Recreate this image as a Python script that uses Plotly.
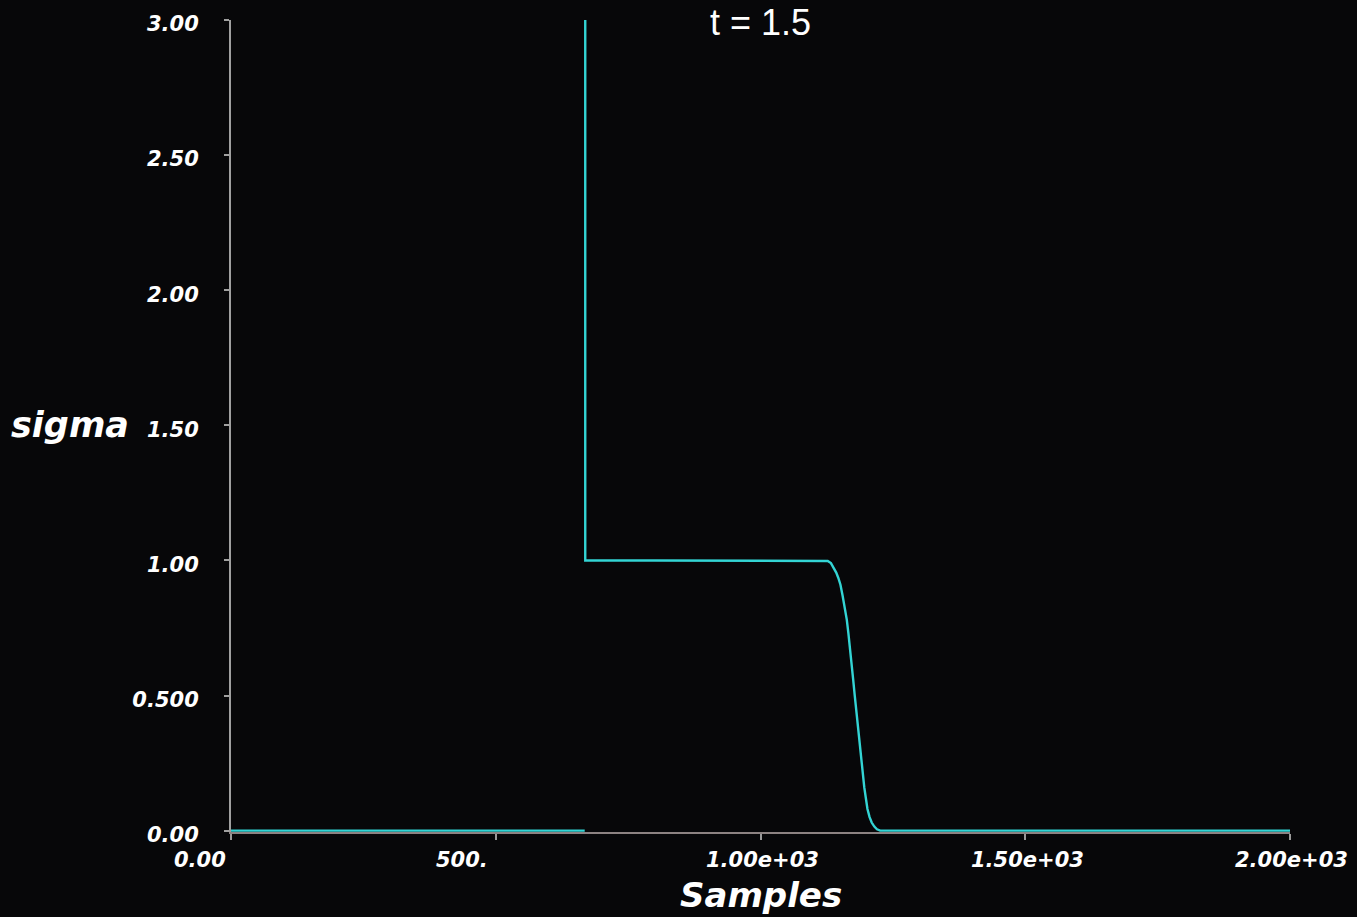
import plotly.graph_objects as go

# Sample index and sigma profile at t = 1.5
left_x = [0, 200, 400, 600, 668]
left_sigma = [0.0, 0.0, 0.0, 0.0, 0.0]

front_x = [669, 669, 800, 1000, 1120, 1127, 1133, 1138, 1143, 1147, 1151, 1155, 1159,
           1163, 1166, 1169, 1172, 1175, 1178, 1181, 1184, 1187, 1190, 1193, 1196,
           1199, 1202, 1206, 1210, 1215, 1220, 1226, 1400, 1700, 2000]
front_sigma = [3.0, 1.0, 1.0, 1.0, 1.0, 0.998, 0.99, 0.975, 0.955, 0.935, 0.91, 0.87,
               0.83, 0.78, 0.73, 0.68, 0.63, 0.56, 0.50, 0.44, 0.38, 0.33, 0.27, 0.21,
               0.16, 0.12, 0.08, 0.05, 0.03, 0.015, 0.005, 0.0, 0.0, 0.0, 0.0]

y_ticks = [0.0, 0.5, 1.0, 1.5, 2.0, 2.5, 3.0]
y_ticktext = ["0.00", "0.500", "1.00", "1.50", "2.00", "2.50", "3.00"]
x_ticks = [0, 500, 1000, 1500, 2000]
x_ticktext = ["0.00", "500.", "1.00e+03", "1.50e+03", "2.00e+03"]
x_label_anchor = ["right", "right", "center", "center", "center"]
x_label_shift = [-3, -6, 2, 2, 1]

BG = "#070709"
LINE = "#33d4d4"
FONT = "DejaVu Sans"

fig = go.Figure()
fig.add_trace(go.Scatter(x=left_x + [None] + front_x,
                         y=left_sigma + [None] + front_sigma,
                         mode="lines", line=dict(color=LINE, width=2.4),
                         connectgaps=False, showlegend=False))

tick_font = dict(family=FONT, size=21, color="white", style="italic", weight="bold")

fig.update_layout(
    width=1357, height=917,
    paper_bgcolor=BG, plot_bgcolor=BG,
    margin=dict(l=231, r=67, t=20, b=85),
    showlegend=False,
    xaxis=dict(range=[0, 2000], showgrid=False, zeroline=False, automargin=False,
               showline=True, linecolor="#8c8282", linewidth=2,
               ticks="outside", ticklen=6, tickcolor="#9a9a9a", tickwidth=2,
               tickvals=x_ticks, showticklabels=False, layer="below traces"),
    yaxis=dict(range=[-0.005, 3], showgrid=False, zeroline=False, automargin=False,
               showline=True, linecolor="#a0a0a0", linewidth=2,
               ticks="outside", ticklen=5, tickcolor="#a0a0a0", tickwidth=2,
               tickvals=y_ticks, ticktext=y_ticktext, tickfont=tick_font,
               ticklabelstandoff=21, ticklabelshift=4, layer="below traces"),
)

# x tick labels
for xv, txt, anc, sh in zip(x_ticks, x_ticktext, x_label_anchor, x_label_shift):
    fig.add_annotation(x=xv, y=0, xref="x", yref="paper", text=txt,
                       showarrow=False, xanchor=anc, yanchor="top",
                       xshift=sh, yshift=-14, font=tick_font)

# axis titles and time stamp
fig.add_annotation(x=0.5, y=0, xref="paper", yref="paper", text="Samples",
                   showarrow=False, xanchor="center", yanchor="top", yshift=-41,
                   font=dict(family=FONT, size=34, color="white", style="italic", weight="bold"))
fig.add_annotation(x=0, y=1.5, xref="paper", yref="y", text="sigma",
                   showarrow=False, xanchor="right", yanchor="middle", xshift=-100,
                   font=dict(family=FONT, size=35, color="white", style="italic", weight="bold"))
fig.add_annotation(x=0.5, y=1, xref="paper", yref="paper", text="t = 1.5",
                   showarrow=False, xanchor="center", yanchor="middle", yshift=-2,
                   font=dict(family="Liberation Sans", size=36, color="white"))

fig.write_html("out.html")
